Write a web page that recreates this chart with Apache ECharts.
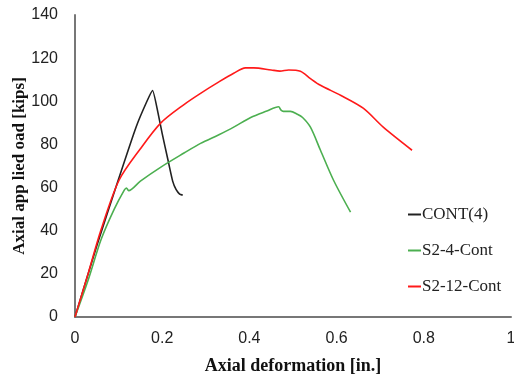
<!DOCTYPE html>
<html>
<head>
<meta charset="utf-8">
<script src="https://cdn.jsdelivr.net/npm/echarts@6/dist/echarts.min.js"></script>
<style>html,body{margin:0;padding:0;background:#fff}#c{width:514px;height:377px}</style>
</head>
<body>
<div id="c"></div>
<script>
var seriesNames = ['CONT(4)', 'S2-4-Cont', 'S2-12-Cont'];
var xTicks = [0, 0.2, 0.4, 0.6, 0.8, 1];
var yTicks = [0, 20, 40, 60, 80, 100, 120, 140];

var contX = [0, 0.05, 0.10, 0.14, 0.165, 0.178, 0.19, 0.20, 0.213, 0.224, 0.232, 0.240, 0.247];
var contY = [0, 33, 64, 88, 100, 105, 95, 85, 73, 63, 59, 57, 56.5];

var s24X = [0, 0.03, 0.06, 0.09, 0.113, 0.118, 0.123, 0.15, 0.197, 0.25, 0.288, 0.33, 0.364, 0.403, 0.44, 0.467, 0.472, 0.478, 0.494, 0.51, 0.522, 0.540, 0.563, 0.593, 0.632];
var s24Y = [0, 17, 36, 50, 58.8, 59.8, 58.6, 63, 69.5, 76, 80.5, 84.5, 88, 92.5, 95.5, 97.5, 96, 95.3, 95.3, 94, 92.5, 88, 77.3, 63.4, 48.6];

var s212X = [0, 0.03, 0.059, 0.101, 0.15, 0.197, 0.25, 0.288, 0.33, 0.364, 0.391, 0.41, 0.45, 0.47, 0.49, 0.517, 0.54, 0.563, 0.609, 0.661, 0.707, 0.773];
var s212Y = [0, 20, 40, 63.4, 78, 90, 98.5, 103.7, 109, 113, 115.5, 115.5, 114.5, 114, 114.5, 113.9, 110.5, 107.4, 102.8, 96.8, 88, 77.3];

function pairs(xs, ys) { return xs.map(function (x, i) { return [x, ys[i]]; }); }

var colors = ['#222222', '#4caf50', '#ff1a1a'];
var smoothness = [0.15, 0.3, 0.3];
var datasets = [pairs(contX, contY), pairs(s24X, s24Y), pairs(s212X, s212Y)];

var chart = echarts.init(document.getElementById('c'));
chart.setOption({
  animation: false,
  backgroundColor: '#ffffff',
  grid: { left: 75, right: 3, top: 15, bottom: 60, containLabel: false, outerBoundsMode: 'none' },
  legend: {
    orient: 'vertical',
    left: 403,
    top: 201,
    itemWidth: 13,
    itemHeight: 2,
    itemGap: 19,
    icon: 'rect',
    data: seriesNames,
    textStyle: { fontFamily: 'Liberation Serif', fontSize: 17, color: '#222', padding: [0, 0, 0, -4] }
  },
  xAxis: {
    type: 'value',
    min: xTicks[0],
    max: xTicks[xTicks.length - 1],
    interval: 0.2,
    name: 'Axial deformation [in.]',
    nameLocation: 'middle',
    nameGap: 40,
    nameMoveOverlap: false,
    nameTextStyle: { fontFamily: 'Liberation Serif', fontWeight: 'bold', fontSize: 18, color: '#111' },
    axisLine: { show: true, lineStyle: { color: '#777', width: 2 } },
    axisTick: { show: false },
    splitLine: { show: false },
    axisLabel: { fontFamily: 'Liberation Sans', fontSize: 16, color: '#222', margin: 14,
      formatter: function (v) { return String(Math.round(v * 10) / 10); } }
  },
  yAxis: {
    type: 'value',
    min: yTicks[0],
    max: yTicks[yTicks.length - 1],
    interval: 20,
    name: 'Axial app lied oad [kips]',
    nameLocation: 'middle',
    nameGap: 47,
    nameMoveOverlap: false,
    nameTextStyle: { fontFamily: 'Liberation Serif', fontWeight: 'bold', fontSize: 17, color: '#111' },
    axisLine: { show: true, lineStyle: { color: '#777', width: 2 } },
    axisTick: { show: false },
    splitLine: { show: false },
    axisLabel: { fontFamily: 'Liberation Sans', fontSize: 16, color: '#222', margin: 17 }
  },
  series: seriesNames.map(function (n, i) {
    return {
      name: n,
      type: 'line',
      data: datasets[i],
      showSymbol: false,
      symbol: 'none',
      smooth: smoothness[i],
      lineStyle: { color: colors[i], width: 1.6 },
      itemStyle: { color: colors[i] }
    };
  })
});
</script>
</body>
</html>
